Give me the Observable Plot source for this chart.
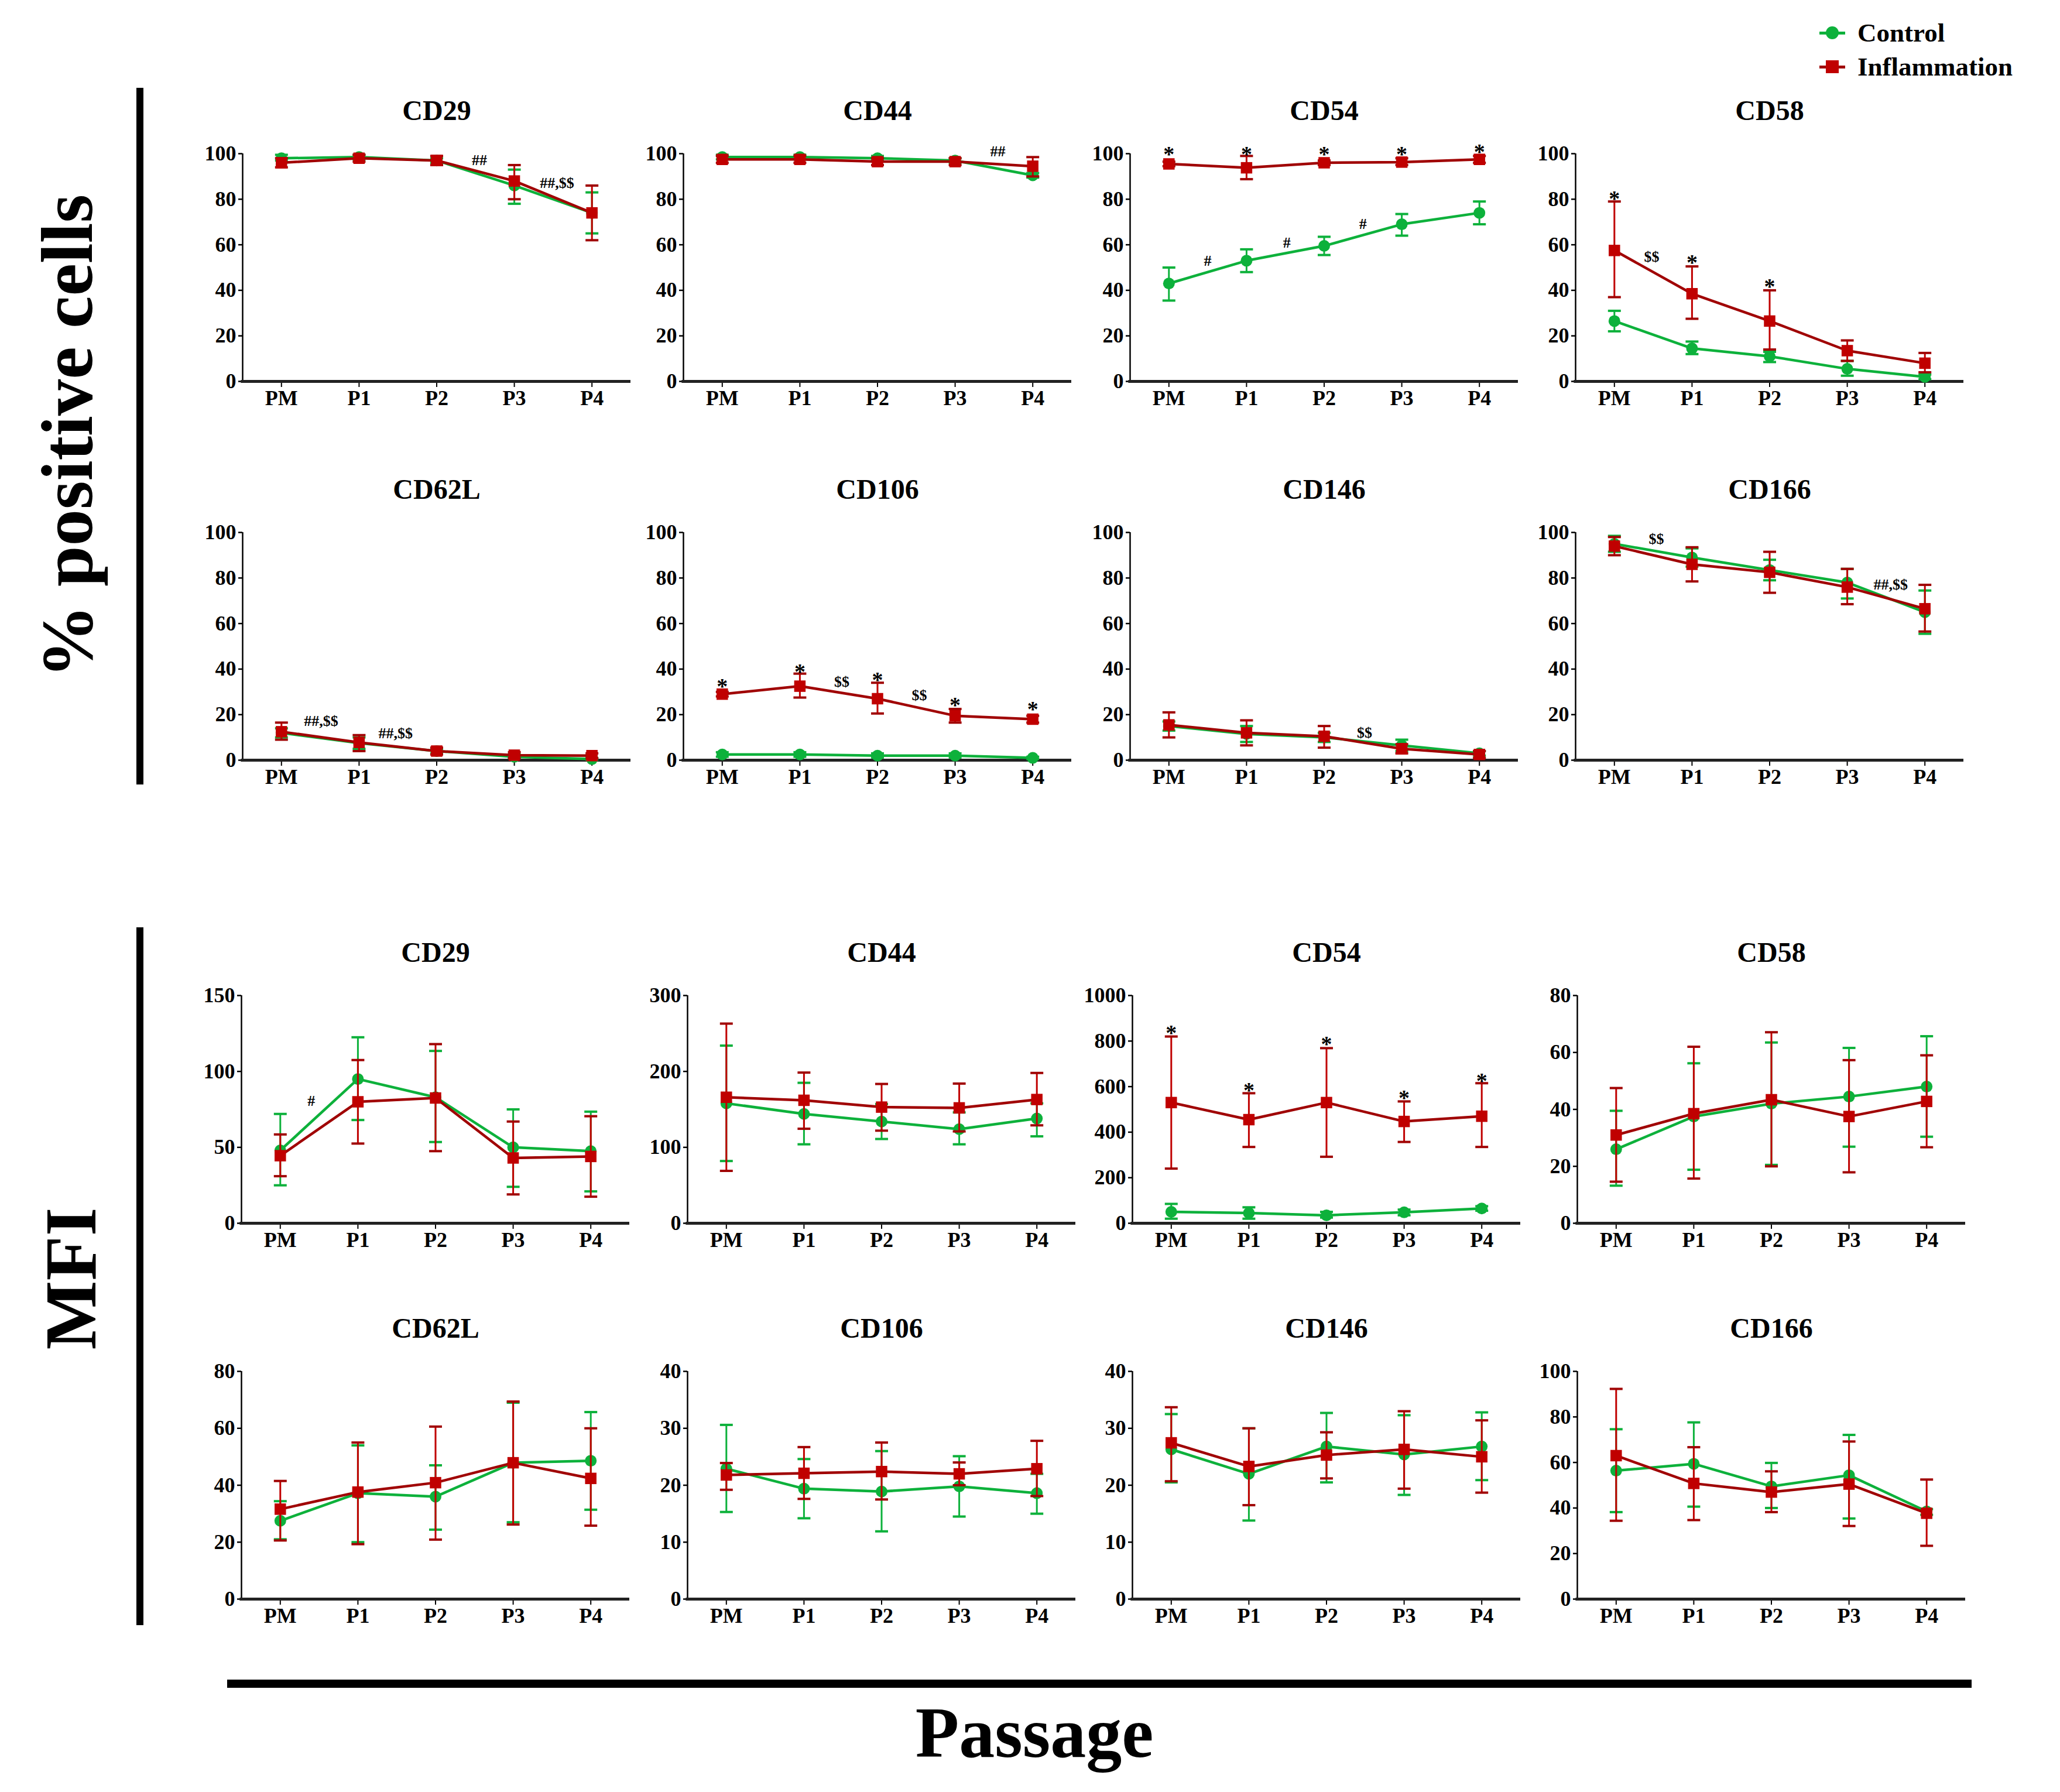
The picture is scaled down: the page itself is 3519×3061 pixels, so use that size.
<!DOCTYPE html>
<html>
<head>
<meta charset="utf-8">
<script src="https://cdn.jsdelivr.net/npm/d3@7"></script>
<script src="https://cdn.jsdelivr.net/npm/@observablehq/plot@0.6"></script>
<style>
html, body { margin: 0; padding: 0; background: #fff; }
#fig { position: relative; width: 3519px; height: 3061px; overflow: hidden; background: #fff;
  font-family: "Liberation Serif", "Times New Roman", serif; font-weight: bold; color: #000; }
.panel { position: absolute; }
.bar { position: absolute; background: #000; }
.big { position: absolute; white-space: nowrap; line-height: 1; font-size: 125px; }
.leg { position: absolute; }
.leg .ln { position: absolute; left: 0; width: 44px; height: 5px; top: -2.5px; }
.leg .mk { position: absolute; }
.leg .tx { position: absolute; left: 65px; top: 0; transform: translateY(-50%); font-size: 45px; line-height: 1; white-space: nowrap; }
</style>
</head>
<body>
<div id="fig"></div>
<script>
// ---------------- data ----------------
const passages = ["PM", "P1", "P2", "P3", "P4"];
const markers = ["CD29", "CD44", "CD54", "CD58", "CD62L", "CD106", "CD146", "CD166"];

// % positive cells (rows in the order of `markers`)
const pctCtrl = [
  [98, 98.5, 97, 86, 74],
  [98.5, 98.5, 98, 97, 90.5],
  [43, 53, 59.5, 69, 74],
  [26.5, 14.5, 11, 5.5, 2],
  [12, 7.5, 4, 1.5, 0.5],
  [2.5, 2.5, 2, 2, 1],
  [15, 11.5, 10, 6.5, 3],
  [95, 89, 83.5, 78, 65]
];
const pctCtrlLo = [
  [97, 97.5, 96, 78, 65],
  [97.5, 97.5, 97, 96, 89.5],
  [35.5, 48, 55.5, 64, 69],
  [22, 12, 8.5, 2.5, 1],
  [10, 5, 3, 1, 0.2],
  [1.5, 1.5, 1.2, 1.2, 0.5],
  [13, 8, 8, 4, 2],
  [91.5, 85, 79, 71, 55.5]
];
const pctCtrlHi = [
  [99.5, 99.5, 98, 93, 83],
  [99.5, 99.5, 99, 98, 91.5],
  [50, 58, 63.5, 73.5, 79],
  [31, 17.5, 13, 9, 3],
  [14, 10, 5, 2.5, 1],
  [3.5, 3.5, 3, 3, 1.5],
  [17, 15, 12, 9, 4],
  [98.5, 93, 88, 84, 74.5]
];
const pctInfl = [
  [96, 98, 97, 88, 74],
  [97.5, 97.5, 96.5, 96.5, 94.5],
  [95.5, 93.8, 96, 96.3, 97.5],
  [57.5, 38.5, 26.5, 13.5, 8],
  [12.5, 7.8, 4, 2.2, 2],
  [29, 32.5, 27, 19.5, 18],
  [15.5, 12, 10.5, 5, 2.5],
  [94, 86, 82.5, 76, 66.5]
];
const pctInflLo = [
  [94, 96.5, 95, 80, 62],
  [96, 96, 95, 95, 90],
  [94.5, 88.8, 95, 95, 96],
  [37, 27.5, 14, 9, 4],
  [9, 4, 2.5, 1, 0.8],
  [28, 27.5, 20.5, 16.5, 16.5],
  [10, 6.5, 5.5, 3, 1],
  [90, 78.5, 73.5, 68.5, 56.5]
];
const pctInflHi = [
  [98, 99.5, 99, 95, 86],
  [99, 99, 98, 98, 98.5],
  [96.5, 99, 97, 98, 99],
  [79, 50.5, 40, 18, 12.5],
  [16.5, 11, 5.5, 3.5, 3],
  [30, 38, 34, 22.5, 19.5],
  [21, 17.5, 15, 7, 4],
  [98, 93.5, 91.5, 84, 77]
];

// MFI
const mfiCtrl = [
  [48, 95, 83, 50, 47.5],
  [158, 144, 134, 124, 138],
  [50, 45, 35, 48, 65],
  [26, 37.5, 42, 44.5, 48],
  [27.5, 37.2, 36, 47.9, 48.6],
  [22.9, 19.4, 18.9, 19.8, 18.6],
  [26.3, 22, 26.8, 25.4, 26.8],
  [56.4, 59.4, 49.5, 54.4, 38.5]
];
const mfiCtrlLo = [
  [25, 68, 53.5, 24, 21],
  [82, 104, 111, 104, 114.5],
  [20, 20, 25, 35, 55],
  [13.2, 18.8, 20.5, 26.9, 30.4],
  [21, 20, 24.4, 27, 31.4],
  [15.3, 14.2, 11.9, 14.5, 15],
  [20.5, 13.8, 20.5, 18.3, 20.9],
  [38.2, 40.6, 40, 35.4, 37]
];
const mfiCtrlHi = [
  [72, 122.5, 113.5, 75, 73.5],
  [234, 185, 157, 146, 158],
  [85, 70, 50, 60, 75],
  [39.5, 56.2, 63.5, 61.6, 65.7],
  [34.4, 54, 47, 69, 65.7],
  [30.6, 24.6, 26, 25.1, 22],
  [32.5, 30, 32.7, 32.3, 32.8],
  [74.6, 77.6, 59.8, 72.1, 39.5]
];
const mfiInfl = [
  [44.5, 80, 82.5, 43, 44],
  [166, 162, 153, 152, 163],
  [530, 455, 530, 447, 470],
  [31, 38.5, 43.4, 37.5, 42.8],
  [31.6, 37.6, 40.9, 47.9, 42.4],
  [21.8, 22.1, 22.4, 22, 22.9],
  [27.45, 23.3, 25.3, 26.3, 25],
  [63, 50.8, 47, 50.5, 37.7]
];
const mfiInflLo = [
  [31, 52.5, 47.5, 19, 17.5],
  [69, 124.5, 122, 121, 129],
  [240, 335, 292, 357, 335],
  [14.6, 15.7, 20, 17.9, 26.7],
  [20.6, 19.3, 20.9, 26.2, 25.8],
  [19.2, 17.6, 17.5, 20, 18.1],
  [20.7, 16.5, 21.2, 19.4, 18.7],
  [34.4, 34.7, 38.2, 32.1, 23.4]
];
const mfiInflHi = [
  [58.5, 107.5, 118, 67, 70.5],
  [263, 198.5, 183.5, 184, 198],
  [820, 571, 769, 535, 615],
  [47.5, 62, 67.1, 57.3, 59],
  [41.5, 55, 60.6, 69.4, 60],
  [23.9, 26.7, 27.5, 24, 27.8],
  [33.7, 30, 29.3, 33, 31.4],
  [92.3, 66.7, 56.1, 69.2, 52.5]
];

// y axis extents and tick steps
const pctYMax = [100, 100, 100, 100, 100, 100, 100, 100];
const pctYStep = [20, 20, 20, 20, 20, 20, 20, 20];
const mfiYMax = [150, 300, 1000, 80, 80, 40, 40, 100];
const mfiYStep = [50, 100, 200, 20, 20, 10, 10, 20];

// significance marks: [passage index position, value, label]
const pctNotes = [
  [[2.55, 97, "##"], [3.55, 87, "##,$$"]],
  [[3.55, 101, "##"]],
  [[0, 102, "*"], [1, 102, "*"], [2, 102, "*"], [3, 102, "*"], [4, 103, "*"],
   [0.5, 53, "#"], [1.52, 61, "#"], [2.5, 69, "#"]],
  [[0, 82.5, "*"], [0.48, 54.8, "$$"], [1, 54.3, "*"], [2, 44, "*"]],
  [[0.51, 17.3, "##,$$"], [1.47, 11.8, "##,$$"]],
  [[0, 34.5, "*"], [1, 41, "*"], [1.54, 34.5, "$$"], [2, 37.4, "*"], [2.54, 28.6, "$$"], [3, 26.5, "*"], [4, 24.5, "*"]],
  [[2.52, 12, "$$"]],
  [[0.54, 97, "$$"], [3.56, 77, "##,$$"]]
];
const mfiNotes = [
  [[0.4, 80.6, "#"]],
  [],
  [[0, 859, "*"], [1, 607, "*"], [2, 810, "*"], [3, 573, "*"], [4, 648, "*"]],
  [], [], [], [], []
];

// ---------------- layout / style ----------------
const G = "#0db13b";
const RM = "#c00000";
const RL = "#a00303";
const FONT = "'Liberation Serif', 'Times New Roman', serif";
const FW = 663, FH = 389;
const ML = 120, MR = 20, MT = 100, MB = 60;
const rowTops = [262, 909, 1700, 2342];
const colXTop = [414, 1167, 1930, 2691];
const colXBot = [412, 1174, 1934, 2694];

const capSymbol = {
  draw(ctx, size) {
    const w = Math.sqrt(size / Math.PI);
    ctx.moveTo(-w, 0);
    ctx.lineTo(w, 0);
  }
};

function panel(title, ctrl, ctrlLo, ctrlHi, infl, inflLo, inflHi, ymax, ystep, notes) {
  const rows = passages.map((p, i) => ({
    i, p, c: ctrl[i], cl: ctrlLo[i], ch: ctrlHi[i], f: infl[i], fl: inflLo[i], fh: inflHi[i]
  }));
  const stars = notes.filter(d => d[2] === "*");
  const others = notes.filter(d => d[2] !== "*");
  return Plot.plot({
    width: ML + FW + MR,
    height: MT + FH + MB,
    marginLeft: ML, marginRight: MR, marginTop: MT, marginBottom: MB,
    x: {type: "linear", domain: [-0.5, 4.5], axis: null, label: null},
    y: {type: "linear", domain: [0, ymax], axis: null, label: null},
    style: {fontFamily: FONT, fontWeight: "bold", fontSize: "36px", maxWidth: "none", background: "transparent", overflow: "visible"},
    marks: [
      Plot.axisY({ticks: d3.range(0, ymax + ystep / 2, ystep), tickFormat: d => String(d), tickSize: 7, tickPadding: 4,
        label: null, strokeWidth: 2.5, fontSize: 36, fontWeight: "bold", fontFamily: FONT}),
      Plot.axisX({ticks: [0, 1, 2, 3, 4], tickFormat: i => passages[i], tickSize: 10, tickPadding: 5,
        label: null, strokeWidth: 2, fontSize: 36, fontWeight: "bold", fontFamily: FONT}),
      Plot.ruleX([-0.5], {stroke: "#000", strokeWidth: 2.5}),
      Plot.ruleY([0], {x1: -0.52, x2: 4.5, stroke: "#222", strokeWidth: 5}),
      // control series
      Plot.ruleX(rows, {x: "i", y1: "cl", y2: "ch", stroke: G, strokeWidth: 3}),
      Plot.dot(rows, {x: "i", y: "ch", symbol: capSymbol, r: 11, stroke: G, strokeWidth: 4}),
      Plot.dot(rows, {x: "i", y: "cl", symbol: capSymbol, r: 11, stroke: G, strokeWidth: 4}),
      Plot.line(rows, {x: "i", y: "c", stroke: G, strokeWidth: 4.5}),
      Plot.dot(rows, {x: "i", y: "c", symbol: "circle", r: 10, fill: G}),
      // inflammation series
      Plot.ruleX(rows, {x: "i", y1: "fl", y2: "fh", stroke: RM, strokeWidth: 3}),
      Plot.dot(rows, {x: "i", y: "fh", symbol: capSymbol, r: 11, stroke: RL, strokeWidth: 4}),
      Plot.dot(rows, {x: "i", y: "fl", symbol: capSymbol, r: 11, stroke: RL, strokeWidth: 4}),
      Plot.line(rows, {x: "i", y: "f", stroke: RL, strokeWidth: 4.5}),
      Plot.dot(rows, {x: "i", y: "f", symbol: "square", r: 11, fill: RM}),
      // significance marks
      Plot.text(others, {x: d => d[0], y: d => d[1], text: d => d[2], fontSize: 26, fontWeight: "bold", fontFamily: FONT, fill: "#000"}),
      Plot.text(stars, {x: d => d[0], y: d => d[1], text: d => d[2], fontSize: 38, dy: 9, fontWeight: "bold", fontFamily: FONT, fill: "#000"}),
      // panel title
      Plot.text([title], {text: d => d, frameAnchor: "top", lineAnchor: "middle", dy: -73, fontSize: 48, fontWeight: "bold", fontFamily: FONT, fill: "#000"})
    ]
  });
}

const fig = document.getElementById("fig");

function place(node, left, top) {
  const wrap = document.createElement("div");
  wrap.className = "panel";
  wrap.style.left = left + "px";
  wrap.style.top = top + "px";
  wrap.style.width = (ML + FW + MR) + "px";
  wrap.appendChild(node);
  fig.appendChild(wrap);
}

markers.forEach((m, k) => {
  const row = Math.floor(k / 4), col = k % 4;
  place(panel(m, pctCtrl[k], pctCtrlLo[k], pctCtrlHi[k], pctInfl[k], pctInflLo[k], pctInflHi[k],
              pctYMax[k], pctYStep[k], pctNotes[k]),
        colXTop[col] - ML, rowTops[row] - MT);
  place(panel(m, mfiCtrl[k], mfiCtrlLo[k], mfiCtrlHi[k], mfiInfl[k], mfiInflLo[k], mfiInflHi[k],
              mfiYMax[k], mfiYStep[k], mfiNotes[k]),
        colXBot[col] - ML, rowTops[row + 2] - MT);
});

// ---------------- decorations: group bars, big labels, legend ----------------
function addDiv(cls, css, html) {
  const d = document.createElement("div");
  d.className = cls;
  Object.assign(d.style, css);
  if (html != null) d.innerHTML = html;
  fig.appendChild(d);
  return d;
}
addDiv("bar", {left: "233px", top: "150px", width: "12px", height: "1190px"});
addDiv("bar", {left: "233px", top: "1584px", width: "12px", height: "1192px"});
addDiv("bar", {left: "388px", top: "2869px", width: "2980px", height: "14px"});

addDiv("big", {left: "115px", top: "745px", transform: "translate(-50%, -50%) rotate(-90deg)"}, "% positive cells");
addDiv("big", {left: "121px", top: "2184px", transform: "translate(-50%, -50%) rotate(-90deg)"}, "MFI");
addDiv("big", {left: "1767px", top: "2960px", transform: "translate(-50%, -50%)", fontSize: "122px"}, "Passage");

function legendItem(cy, color, lineColor, shape, label) {
  const item = addDiv("leg", {left: "3108px", top: cy + "px"});
  const ln = document.createElement("div");
  ln.className = "ln"; ln.style.background = lineColor;
  item.appendChild(ln);
  const mk = document.createElement("div");
  mk.className = "mk";
  Object.assign(mk.style, {left: "11px", top: "-11px", width: "22px", height: "22px", background: color,
    borderRadius: shape === "circle" ? "50%" : "0"});
  item.appendChild(mk);
  const tx = document.createElement("div");
  tx.className = "tx"; tx.textContent = label;
  item.appendChild(tx);
}
legendItem(56, G, G, "circle", "Control");
legendItem(114, RM, RL, "square", "Inflammation");
</script>
</body>
</html>
